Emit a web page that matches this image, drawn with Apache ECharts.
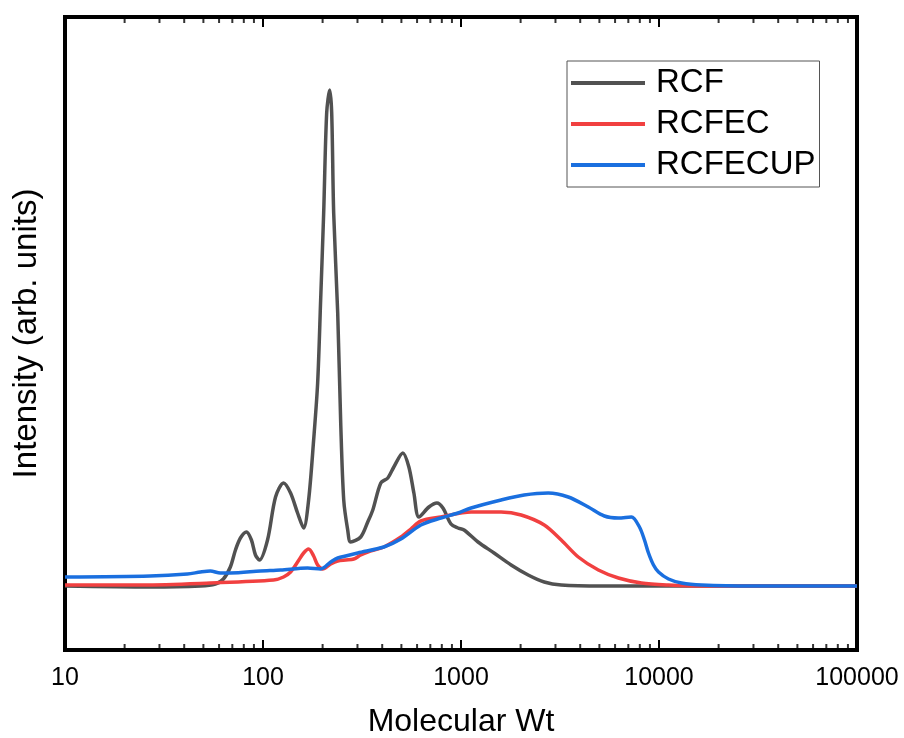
<!DOCTYPE html>
<html>
<head>
<meta charset="utf-8">
<script src="https://cdn.jsdelivr.net/npm/echarts@6/dist/echarts.min.js"></script>
<style>html,body{margin:0;padding:0;background:#fff}#c{width:904px;height:738px}</style>
</head>
<body>
<div id="c"></div>
<script>
// Molecular weight (x) and intensity (arb. units) for each sample
const mwRCF  = [10, 26.9, 48.3, 57.5, 63.1, 68.4, 72.6, 76.9, 82.5, 87.4, 91.6, 96.0, 105.4, 115.7, 127.0, 137.8, 149.5, 160.4, 170.0, 180.2, 188.8, 195.5, 202.5, 209.7, 217.2, 222.3, 227.5, 238.4, 246.9, 255.7, 267.8, 277.3, 311.6, 338.1, 358.5, 393.6, 427.0, 457.9, 508.6, 545.4, 578.1, 612.9, 688.7, 755.7, 810.5, 889.9, 965.6, 1036, 1219, 1469, 1791, 2184, 2633, 3208, 5116, 16420, 100000];
const intRCF = [64, 63, 64, 66, 71, 83, 100, 112, 118, 110, 95, 90, 110, 153, 167, 157, 137, 122, 150, 210, 267, 350, 437, 537, 560, 537, 437, 337, 227, 150, 120, 108, 113, 128, 140, 167, 172, 183, 197, 183, 157, 133, 143, 147, 142, 126, 122, 120, 108, 97, 85, 75, 68, 65, 64, 64, 64];

const mwRCFEC  = [10, 24.8, 54.2, 113.0, 127.0, 137.8, 149.5, 160.4, 170.0, 180.2, 188.8, 200.1, 219.8, 238.4, 261.7, 287.2, 311.6, 338.1, 407.6, 497.0, 558.2, 627.3, 791.8, 1124, 1594, 2013, 2633, 3208, 3912, 4940, 6237, 8154, 11170, 16420, 100000];
const intRCFEC = [65, 65, 67, 70, 73, 78, 88, 97, 101, 94, 85, 81, 86, 89, 90, 91, 95, 98, 103, 113, 121, 129, 133, 138, 138, 135, 125, 110, 93, 80, 72, 67, 65, 64, 64];

const mwRCFECUP  = [10, 26.9, 41.5, 48.3, 54.2, 60.9, 68.4, 97.1, 122.7, 168.0, 195.5, 219.8, 238.4, 301.0, 407.6, 497.0, 627.3, 791.8, 965.6, 1124, 1594, 2084, 2758, 3481, 4395, 5298, 6237, 7258, 7966, 8446, 8849, 9380, 9943, 11170, 13000, 16420, 29400, 100000];
const intRCFECUP = [73, 74, 76, 78, 79, 77, 77, 79, 80, 82, 81, 88, 92, 97, 103, 111, 125, 132, 137, 142, 150, 155, 157, 153, 143, 134, 132, 133, 123, 110, 97, 85, 78, 71, 67, 65, 64, 64];

const minorTicks = [20,30,40,50,60,70,80,90,200,300,400,500,600,700,800,900,2000,3000,4000,5000,6000,7000,8000,9000,20000,30000,40000,50000,60000,70000,80000,90000];
const xTickLabels = ['10','100','1000','10000','100000'];

const Y_MAX = 633;
const zip = (a, b) => a.map((v, i) => [v, b[i]]);
const FONT = '"Liberation Sans", Arial, sans-serif';

const chart = echarts.init(document.getElementById('c'), null, {renderer: 'canvas'});
const lineSeries = (name, xs, ys, color) => ({
  name, type: 'line', data: zip(xs, ys), symbol: 'none', showSymbol: false,
  smooth: 0.3,
  lineStyle: {color: color, width: 3.5}, itemStyle: {color: color}, z: 3
});

chart.setOption({
  animation: false,
  backgroundColor: '#fff',
  grid: {left: 65, right: 47, top: 17, bottom: 88, outerBoundsMode: 'none', containLabel: false,
         show: true, borderColor: '#000', borderWidth: 4, backgroundColor: 'transparent'},
  legend: {
    data: ['RCF', 'RCFEC', 'RCFECUP'],
    icon: 'rect',
    orient: 'vertical', left: 567, top: 61,
    itemWidth: 74, itemHeight: 4, itemGap: 5,
    padding: [4, 4, 4, 4],
    borderColor: '#555', borderWidth: 1,
    textStyle: {fontSize: 33, lineHeight: 36, color: '#000', fontFamily: FONT, padding: [0, 0, 0, 6]}
  },
  xAxis: [{
    type: 'log', logBase: 10, min: 10, max: 100000, position: 'bottom',
    name: 'Molecular Wt', nameLocation: 'middle', nameGap: 56,
    nameTextStyle: {fontSize: 32, color: '#000', fontFamily: FONT},
    axisLine: {show: false},
    axisTick: {show: true, inside: true, length: 10, lineStyle: {color: '#000', width: 2}},
    axisLabel: {fontSize: 25, color: '#000', fontFamily: FONT, margin: 16,
      formatter: v => { const s = String(Math.round(v)); return xTickLabels.includes(s) ? s : ''; }},
    splitLine: {show: false}, minorTick: {show: false}
  }, {
    type: 'log', logBase: 10, min: 10, max: 100000, position: 'top',
    axisLine: {show: false},
    axisTick: {show: true, inside: true, length: 10, lineStyle: {color: '#000', width: 2}},
    axisLabel: {show: false}, splitLine: {show: false}
  }],
  yAxis: {
    type: 'value', min: 0, max: Y_MAX,
    name: 'Intensity (arb. units)', nameLocation: 'middle', nameGap: 22, nameRotate: 90,
    nameTextStyle: {fontSize: 33, color: '#000', fontFamily: FONT},
    axisLine: {show: false}, axisTick: {show: false}, axisLabel: {show: false}, splitLine: {show: false}
  },
  series: [
    lineSeries('RCF', mwRCF, intRCF, '#515151'),
    lineSeries('RCFEC', mwRCFEC, intRCFEC, '#F14040'),
    lineSeries('RCFECUP', mwRCFECUP, intRCFECUP, '#1A6FDF'),
    {type: 'scatter', name: 'minorBottom', data: minorTicks.map(v => [v, 0]), symbol: 'rect',
     symbolSize: [2, 6], symbolOffset: [0, -3], itemStyle: {color: '#000'}, clip: false, silent: true, z: 5},
    {type: 'scatter', name: 'minorTop', data: minorTicks.map(v => [v, Y_MAX]), symbol: 'rect',
     symbolSize: [2, 6], symbolOffset: [0, 3], itemStyle: {color: '#000'}, clip: false, silent: true, z: 5}
  ]
});
</script>
</body>
</html>
